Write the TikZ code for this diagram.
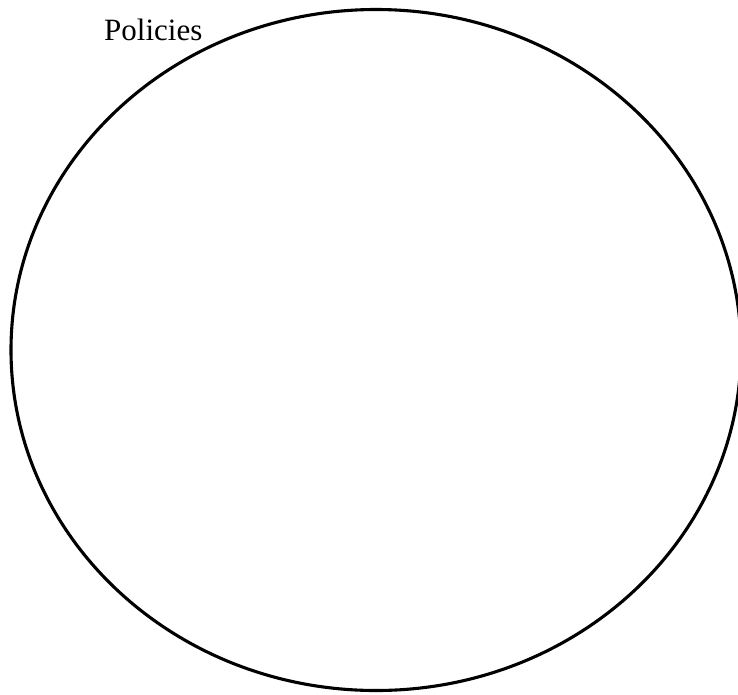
\documentclass[tikz,border=0pt]{standalone}
\usepackage{fontspec}
\setmainfont{Liberation Serif}
\usetikzlibrary{positioning,shapes.geometric}
\definecolor{Ink}{HTML}{000000}
\tikzset{
  setbox/.style={draw=Ink,ellipse,line width=3.1pt,inner sep=0pt,minimum width=730pt,minimum height=681pt},
  setlabel/.style={font=\fontsize{31}{37}\selectfont,text=Ink,inner sep=0pt,anchor=base west}
}
\begin{document}
\begin{tikzpicture}[x=1pt,y=-1pt]
  \useasboundingbox (0,0) rectangle (738,694);
  \clip (0,0) rectangle (738,694);
  \node[setbox] (policies) at (376,350) {};
  \node[setlabel] (policieslabel) at (104,40) {Policies};
\end{tikzpicture}
\end{document}
